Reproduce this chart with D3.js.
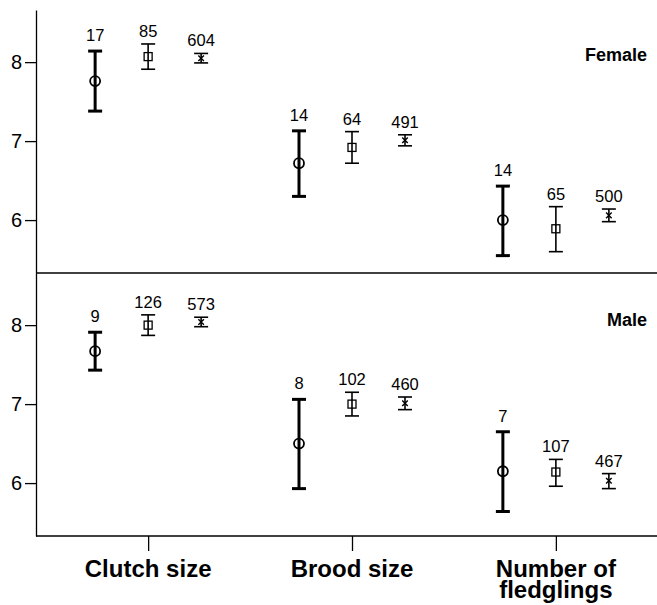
<!DOCTYPE html>
<html>
<head>
<meta charset="utf-8">
<script src="https://cdn.jsdelivr.net/npm/d3@7"></script>
<style>
  body { margin: 0; background: #fff; }
  svg { display: block; font-family: "Liberation Sans", Arial, sans-serif; }
</style>
</head>
<body>
<div id="chart"></div>
<script>
// data: rows = measure, columns = group (circle, square, star)
var measures = ["Clutch size", "Brood size", "Number of fledglings"];
var groups = ["group1", "group2", "group3"];
var panels = ["Female", "Male"];
var yTicks = [6, 7, 8];

var femaleMean  = [[7.76, 8.07, 8.05], [6.72, 6.92, 7.01], [6.00, 5.89, 6.06]];
var femaleLower = [[7.38, 7.91, 7.99], [6.30, 6.72, 6.94], [5.55, 5.60, 5.98]];
var femaleUpper = [[8.14, 8.23, 8.11], [7.13, 7.12, 7.08], [6.43, 6.17, 6.14]];
var femaleN     = [[17, 85, 604], [14, 64, 491], [14, 65, 500]];

var maleMean  = [[7.67, 8.00, 8.04], [6.50, 7.00, 7.01], [6.15, 6.14, 6.03]];
var maleLower = [[7.43, 7.87, 7.98], [5.93, 6.85, 6.93], [5.64, 5.96, 5.93]];
var maleUpper = [[7.91, 8.13, 8.10], [7.06, 7.15, 7.09], [6.65, 6.30, 6.12]];
var maleN     = [[9, 126, 573], [8, 102, 460], [7, 107, 467]];

var width = 657, height = 605;
var marginLeft = 36, marginTop = 10, panelH = 263;

var svg = d3.select("#chart").append("svg")
  .attr("width", width)
  .attr("height", height);

var x = d3.scalePoint().domain(measures).range([marginLeft, 668]).padding(0.55);
var xIn = d3.scalePoint().domain(groups).range([-53, 53]);

// per group style
var strokeW = { group1: 3, group2: 1.6, group3: 1.6 };
var labelGap = { group1: 10, group2: 7, group3: 7 };
var capHalf = 7;

function buildRows(mean, lower, upper, n) {
  var rows = [];
  measures.forEach(function(m, i) {
    groups.forEach(function(g, j) {
      rows.push({ measure: m, group: g, mean: mean[i][j], lo: lower[i][j], hi: upper[i][j], n: n[i][j] });
    });
  });
  return rows;
}

var panelData = {
  Female: buildRows(femaleMean, femaleLower, femaleUpper, femaleN),
  Male: buildRows(maleMean, maleLower, maleUpper, maleN)
};

panels.forEach(function(p, pi) {
  var y0 = marginTop + pi * panelH;
  var y = d3.scaleLinear().domain([5.33, 8.66]).range([y0 + panelH, y0]);

  var ax = svg.append("g")
    .attr("transform", "translate(" + marginLeft + ",0)")
    .call(d3.axisLeft(y).tickValues(yTicks).tickFormat(d3.format("d")).tickSize(11).tickSizeOuter(0).tickPadding(3));
  ax.select(".domain").attr("stroke-width", 1.3);
  ax.selectAll(".tick line").attr("stroke-width", 1.3);
  ax.selectAll("text").attr("font-size", 20).attr("fill", "#000").attr("font-family", "Liberation Sans, Arial");

  // horizontal line closing the panel
  svg.append("line")
    .attr("x1", marginLeft).attr("x2", width)
    .attr("y1", y(5.33)).attr("y2", y(5.33))
    .attr("stroke", "#000").attr("stroke-width", 1.3);

  svg.append("text")
    .attr("x", 647).attr("y", y0 + 51 + (pi ? 2 : 0))
    .attr("text-anchor", "end")
    .attr("font-size", 18).attr("font-weight", "bold")
    .text(p);

  var g = svg.selectAll(".bar" + pi)
    .data(panelData[p])
    .enter().append("g")
    .attr("transform", function(d) { return "translate(" + (x(d.measure) + xIn(d.group)) + ",0)"; });

  g.append("line")
    .attr("y1", function(d) { return y(d.lo); })
    .attr("y2", function(d) { return y(d.hi); })
    .attr("stroke", "#000")
    .attr("stroke-width", function(d) { return strokeW[d.group]; });

  g.selectAll(".cap")
    .data(function(d) { return [{ v: d.lo, g: d.group }, { v: d.hi, g: d.group }]; })
    .enter().append("line")
    .attr("x1", -capHalf).attr("x2", capHalf)
    .attr("y1", function(c) { return y(c.v); })
    .attr("y2", function(c) { return y(c.v); })
    .attr("stroke", "#000")
    .attr("stroke-width", function(c) { return strokeW[c.g]; });

  g.filter(function(d) { return d.group === "group1"; })
    .append("circle")
    .attr("cy", function(d) { return y(d.mean); })
    .attr("r", 5)
    .attr("fill", "none").attr("stroke", "#000").attr("stroke-width", 1.8);

  g.filter(function(d) { return d.group === "group2"; })
    .append("rect")
    .attr("x", -4).attr("width", 8).attr("height", 8)
    .attr("y", function(d) { return y(d.mean) - 4; })
    .attr("fill", "none").attr("stroke", "#000").attr("stroke-width", 1.3);

  g.filter(function(d) { return d.group === "group3"; })
    .append("path")
    .attr("d", d3.symbol(d3.symbolTimes, 22))
    .attr("transform", function(d) { return "translate(0," + y(d.mean) + ")"; })
    .attr("fill", "none").attr("stroke", "#000").attr("stroke-width", 1.4);

  g.append("text")
    .attr("y", function(d) { return y(d.hi) - labelGap[d.group]; })
    .attr("text-anchor", "middle")
    .attr("font-size", 16.5)
    .text(function(d) { return d.n; });
});

// bottom category axis
var bottomY = marginTop + 2 * panelH;
var bx = svg.append("g")
  .attr("transform", "translate(0," + bottomY + ")")
  .call(d3.axisBottom(x).tickSize(15).tickSizeOuter(0).tickFormat(""));
bx.select(".domain").remove();
bx.selectAll(".tick line").attr("stroke-width", 1.3);

var catLabels = svg.selectAll(".cat")
  .data(measures)
  .enter().append("text")
  .attr("text-anchor", "middle")
  .attr("font-size", 24)
  .attr("font-weight", "bold")
  .attr("transform", function(d) { return "translate(" + x(d) + "," + (bottomY + 41) + ")"; });

catLabels.each(function(d) {
  var lines = d === "Number of fledglings" ? ["Number of", "fledglings"] : [d];
  d3.select(this).selectAll("tspan")
    .data(lines)
    .enter().append("tspan")
    .attr("x", 0)
    .attr("dy", function(l, i) { return i ? 21 : 0; })
    .text(function(l) { return l; });
});
</script>
</body>
</html>
